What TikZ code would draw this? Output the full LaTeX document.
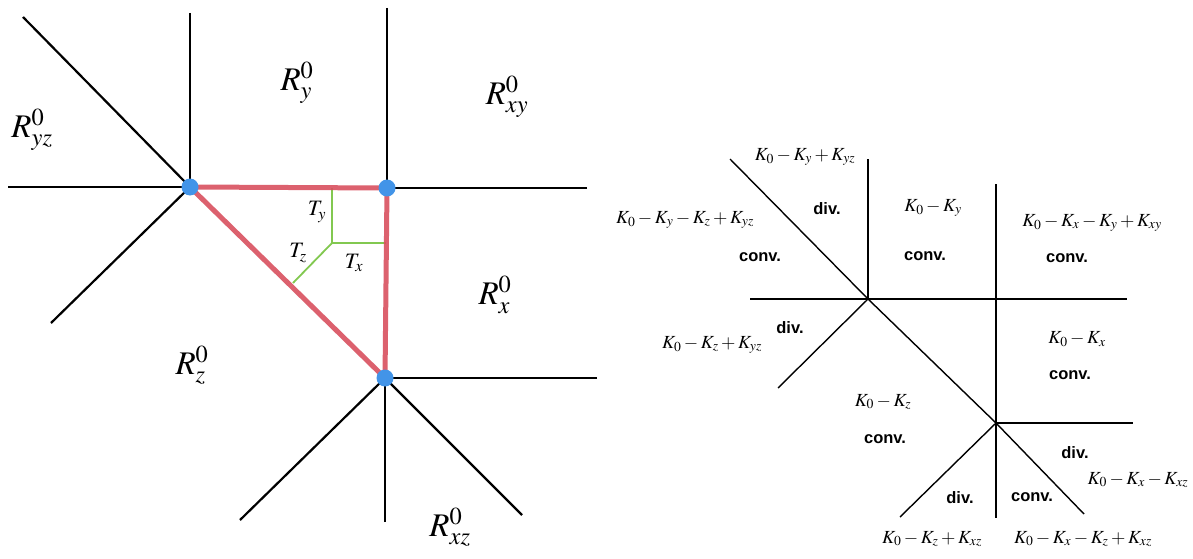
\documentclass[tikz,border=0pt]{standalone}
\usepackage{mathptmx}
\usepackage{fontspec}
\setmainfont{Liberation Serif}
\newfontfamily\hvb{Liberation Sans}
\definecolor{dotblue}{RGB}{66,148,232}
\definecolor{redline}{RGB}{216,80,94}
\definecolor{greenline}{RGB}{130,200,80}
\tikzset{
  blk/.style={line width=2.2pt,black},
  thin/.style={line width=1.4pt,black},
  redl/.style={line width=5pt,redline,opacity=0.9},
  grn/.style={line width=1.8pt,greenline},
  dot/.style={circle,fill=dotblue,inner sep=0pt,minimum size=17pt},
  rlab/.style={inner sep=0pt,font=\fontsize{33}{36}\selectfont},
  tlab/.style={inner sep=0pt,font=\fontsize{22}{24}\selectfont},
  klab/.style={inner sep=0pt,font=\fontsize{18.5}{21}\selectfont},
  wlab/.style={inner sep=0pt,font=\fontsize{16.5}{19}\selectfont\hvb\bfseries}
}
\begin{document}
\begin{tikzpicture}[x=1pt,y=-1pt]
\useasboundingbox (0,0) rectangle (1193,559);
% ---------- left diagram ----------
\coordinate (A) at (190,187);
\coordinate (B) at (387,188);
\coordinate (C) at (385,378);
\coordinate (a1) at (23,17);
\coordinate (a2) at (190,13);
\coordinate (a3) at (8,187);
\coordinate (a4) at (51,323);
\coordinate (b1) at (387,8);
\coordinate (b2) at (587,188);
\coordinate (c1) at (597,378);
\coordinate (c2) at (240,520);
\coordinate (c3) at (385,522);
\coordinate (c4) at (522,515);
\draw[blk] (a1) -- (A);
\draw[blk] (a2) -- (A);
\draw[blk] (a3) -- (A);
\draw[blk] (a4) -- (A);
\draw[blk] (b1) -- (B);
\draw[blk] (b2) -- (B);
\draw[blk] (c1) -- (C);
\draw[blk] (c2) -- (C);
\draw[blk] (c3) -- (C);
\draw[blk] (c4) -- (C);
% green
\coordinate (G) at (332,243);
\coordinate (gy) at (332,188);
\coordinate (gx) at (386,243);
\coordinate (gz) at (293,283);
\draw[grn] (G) -- (gy);
\draw[grn] (G) -- (gx);
\draw[grn] (G) -- (gz);
% red triangle
\draw[redl] (A) -- (B);
\draw[redl] (B) -- (C);
\draw[redl] (C) -- (A);
\node[dot] (dA) at (A) {};
\node[dot] (dB) at (B) {};
\node[dot] (dC) at (C) {};
% labels
\node[rlab] (Ryz) at (32,130) {$R_{yz}^0$};
\node[rlab] (Ry) at (297,83) {$R_{y}^0$};
\node[rlab] (Rxy) at (507,97) {$R_{xy}^0$};
\node[rlab] (Rx) at (495,295) {$R_{x}^0$};
\node[rlab] (Rz) at (192,365) {$R_{z}^0$};
\node[rlab] (Rxz) at (450,527) {$R_{xz}^0$};
\node[tlab] (Ty) at (317,212) {$T_y$};
\node[tlab] (Tz) at (298,253) {$T_z$};
\node[tlab] (Tx) at (354,263) {$T_x$};
% ---------- right diagram ----------
\coordinate (P) at (868,299);
\coordinate (Q) at (996,423);
\coordinate (p1) at (730,159);
\coordinate (p2) at (868,159);
\coordinate (p3) at (750,299);
\coordinate (p4) at (1127,299);
\coordinate (p5) at (778,388);
\coordinate (q1) at (996,184);
\coordinate (q2) at (996,518);
\coordinate (q3) at (1133,423);
\coordinate (q4) at (1084,514);
\coordinate (q5) at (900,517);
\draw[thin] (p1) -- (P);
\draw[thin] (P) -- (Q);
\draw[thin] (Q) -- (q4);
\draw[thin] (p2) -- (P);
\draw[thin] (p3) -- (p4);
\draw[thin] (P) -- (p5);
\draw[thin] (q1) -- (q2);
\draw[thin] (Q) -- (q3);
\draw[thin] (Q) -- (q5);
% right labels
\node[klab] (k1) at (805,157) {$K_0-K_y+K_{yz}$};
\node[klab] (k2) at (685,220) {$K_0-K_y-K_z+K_{yz}$};
\node[klab] (k3) at (933,208) {$K_0-K_y$};
\node[klab] (k4) at (1092,223) {$K_0-K_x-K_y+K_{xy}$};
\node[klab] (k5) at (712,345) {$K_0-K_z+K_{yz}$};
\node[klab] (k6) at (1077,339) {$K_0-K_x$};
\node[klab] (k7) at (883,402) {$K_0-K_z$};
\node[klab] (k8) at (1138,480) {$K_0-K_x-K_{xz}$};
\node[klab] (k9) at (932,539) {$K_0-K_z+K_{xz}$};
\node[klab] (k10) at (1083,539) {$K_0-K_x-K_z+K_{xz}$};
\node[wlab] (w1) at (827,209) {div.};
\node[wlab] (w2) at (760,257) {conv.};
\node[wlab] (w3) at (925,256) {conv.};
\node[wlab] (w4) at (1067,258) {conv.};
\node[wlab] (w5) at (790,328) {div.};
\node[wlab] (w6) at (1070,375) {conv.};
\node[wlab] (w7) at (885,439) {conv.};
\node[wlab] (w8) at (1075,453) {div.};
\node[wlab] (w9) at (960,498) {div.};
\node[wlab] (w10) at (1032,497) {conv.};
\end{tikzpicture}
\end{document}
